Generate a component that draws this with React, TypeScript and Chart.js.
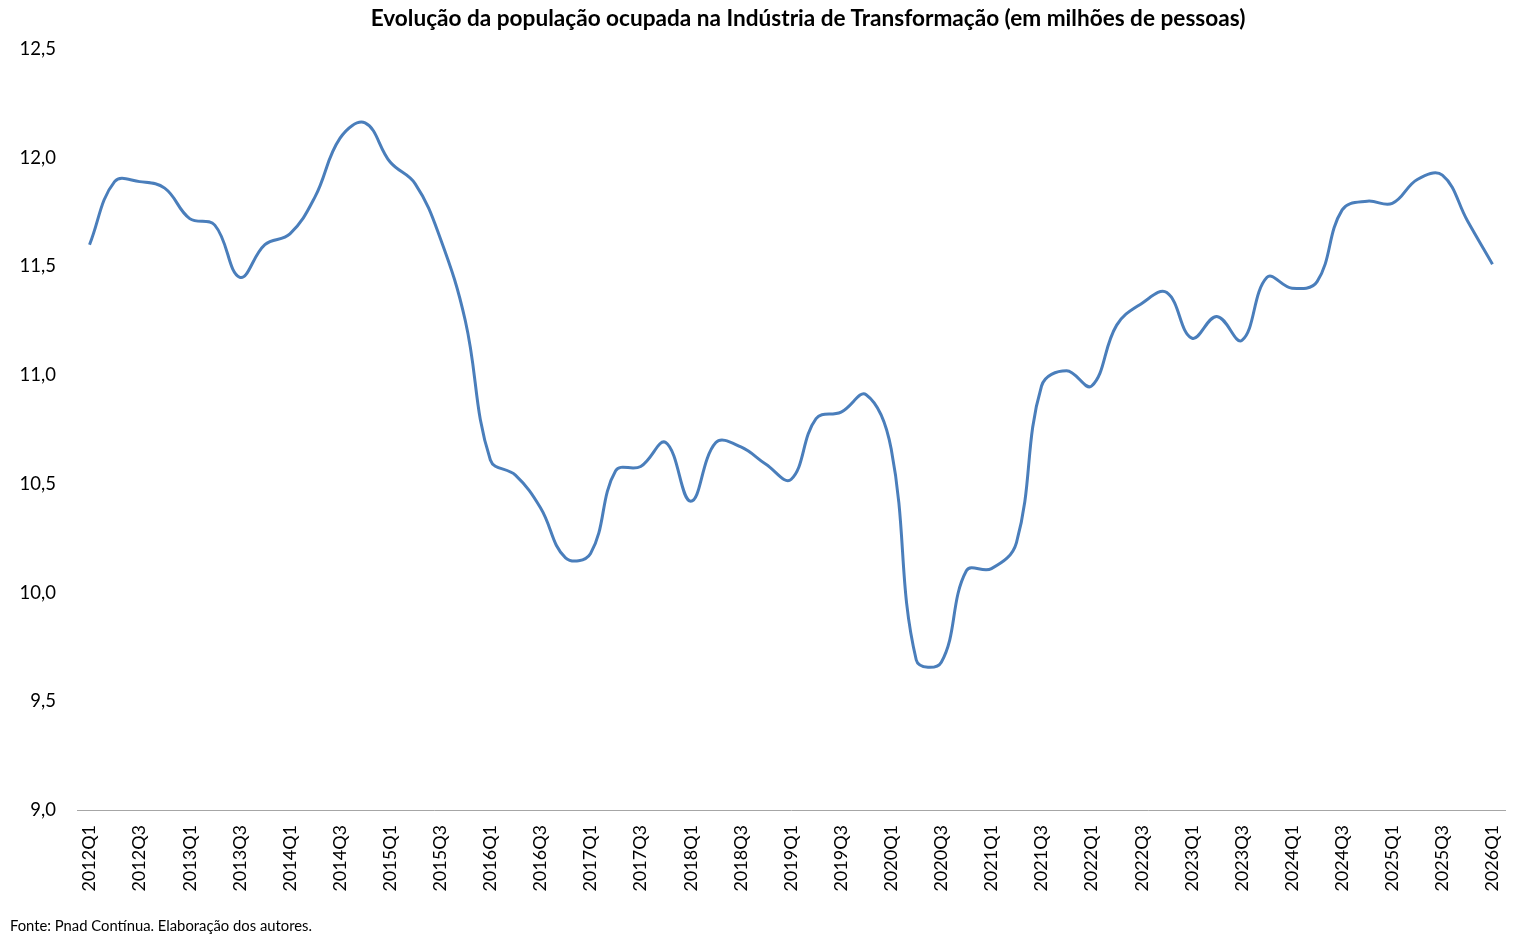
import React, { useEffect, useRef } from "react";
import { Chart, registerables } from "chart.js";

Chart.register(...registerables);

const TITLE = "Evolução da população ocupada na Indústria de Transformação (em milhões de pessoas)";
const SOURCE = "Fonte: Pnad Contínua. Elaboração dos autores.";

const years = [2012, 2013, 2014, 2015, 2016, 2017, 2018, 2019, 2020, 2021, 2022, 2023, 2024, 2025, 2026];
const quarters: string[] = [];
years.forEach((y) => {
  ["Q1", "Q2", "Q3", "Q4"].forEach((q) => {
    if (y < 2026 || q === "Q1") quarters.push(`${y}${q}`);
  });
});

const employed = [
  11.60, 11.89, 11.89, 11.86, 11.72, 11.69, 11.45, 11.60, 11.65, 11.82,
  12.09, 12.16, 11.98, 11.88, 11.63, 11.25, 10.61, 10.54, 10.39, 10.16,
  10.18, 10.56, 10.58, 10.69, 10.42, 10.69, 10.67, 10.59, 10.52, 10.80,
  10.83, 10.91, 10.66, 9.69, 9.68, 10.10, 10.11, 10.23, 10.95, 11.02,
  10.95, 11.23, 11.33, 11.38, 11.17, 11.27, 11.16, 11.45, 11.40, 11.43,
  11.76, 11.80, 11.79, 11.90, 11.92, 11.71, 11.51,
];

const yMin = 9;
const yMax = 12.5;
const yStep = 0.5;

const FONT = "Lato, 'Liberation Sans', sans-serif";

export default function App() {
  const canvasRef = useRef<HTMLCanvasElement | null>(null);

  useEffect(() => {
    document.body.style.margin = "0";
    const ctx = canvasRef.current;
    if (!ctx) return;
    const chart = new Chart(ctx, {
      type: "line",
      data: {
        labels: quarters,
        datasets: [
          {
            data: employed,
            borderColor: "#4A7EBB",
            borderWidth: 3,
            pointRadius: 0,
            pointHoverRadius: 0,
            tension: 0.4,
            fill: false,
          },
        ],
      },
      options: {
        animation: false,
        responsive: false,
        maintainAspectRatio: false,
        layout: { padding: { left: 0, right: 14, top: 49, bottom: 29 } },
        plugins: {
          legend: { display: false },
          title: { display: false },
          tooltip: { enabled: false },
        },
        scales: {
          x: {
            type: "category",
            offset: true,
            grid: { display: false, drawTicks: false },
            border: { display: true, color: "#A6A6A6", width: 1 },
            ticks: {
              autoSkip: false,
              minRotation: 90,
              maxRotation: 90,
              padding: 15,
              color: "#000",
              font: { family: FONT, size: 18 },
              callback: (_v: any, i: number) => (i % 2 === 0 ? quarters[i] : ""),
            },
            afterFit: (s: any) => {
              s.height = 108;
              s.paddingLeft = 0;
              s.paddingRight = 0;
            },
          },
          y: {
            min: yMin,
            max: yMax,
            grid: { display: false, drawTicks: false },
            border: { display: false },
            ticks: {
              stepSize: yStep,
              padding: 21,
              color: "#000",
              font: { family: FONT, size: 18.5 },
              callback: (v: any) => Number(v).toFixed(1).replace(".", ","),
            },
            afterFit: (s: any) => {
              s.width = 77;
            },
          },
        },
      },
    });
    return () => chart.destroy();
  }, []);

  return (
    <div style={{ position: "relative", width: 1519, height: 947, background: "#fff", overflow: "hidden" }}>
      <canvas ref={canvasRef} width={1519} height={947} style={{ position: "absolute", left: 0, top: 0 }} />
      <div
        style={{
          position: "absolute",
          left: 808,
          top: 5,
          transform: "translateX(-50%)",
          whiteSpace: "nowrap",
          fontFamily: FONT,
          fontWeight: 700,
          fontSize: 22.6,
          lineHeight: "26px",
          color: "#000",
        }}
      >
        {TITLE}
      </div>
      <div
        style={{
          position: "absolute",
          left: 10,
          top: 916,
          whiteSpace: "nowrap",
          fontFamily: FONT,
          fontSize: 14.8,
          lineHeight: "19px",
          color: "#000",
        }}
      >
        {SOURCE}
      </div>
    </div>
  );
}
